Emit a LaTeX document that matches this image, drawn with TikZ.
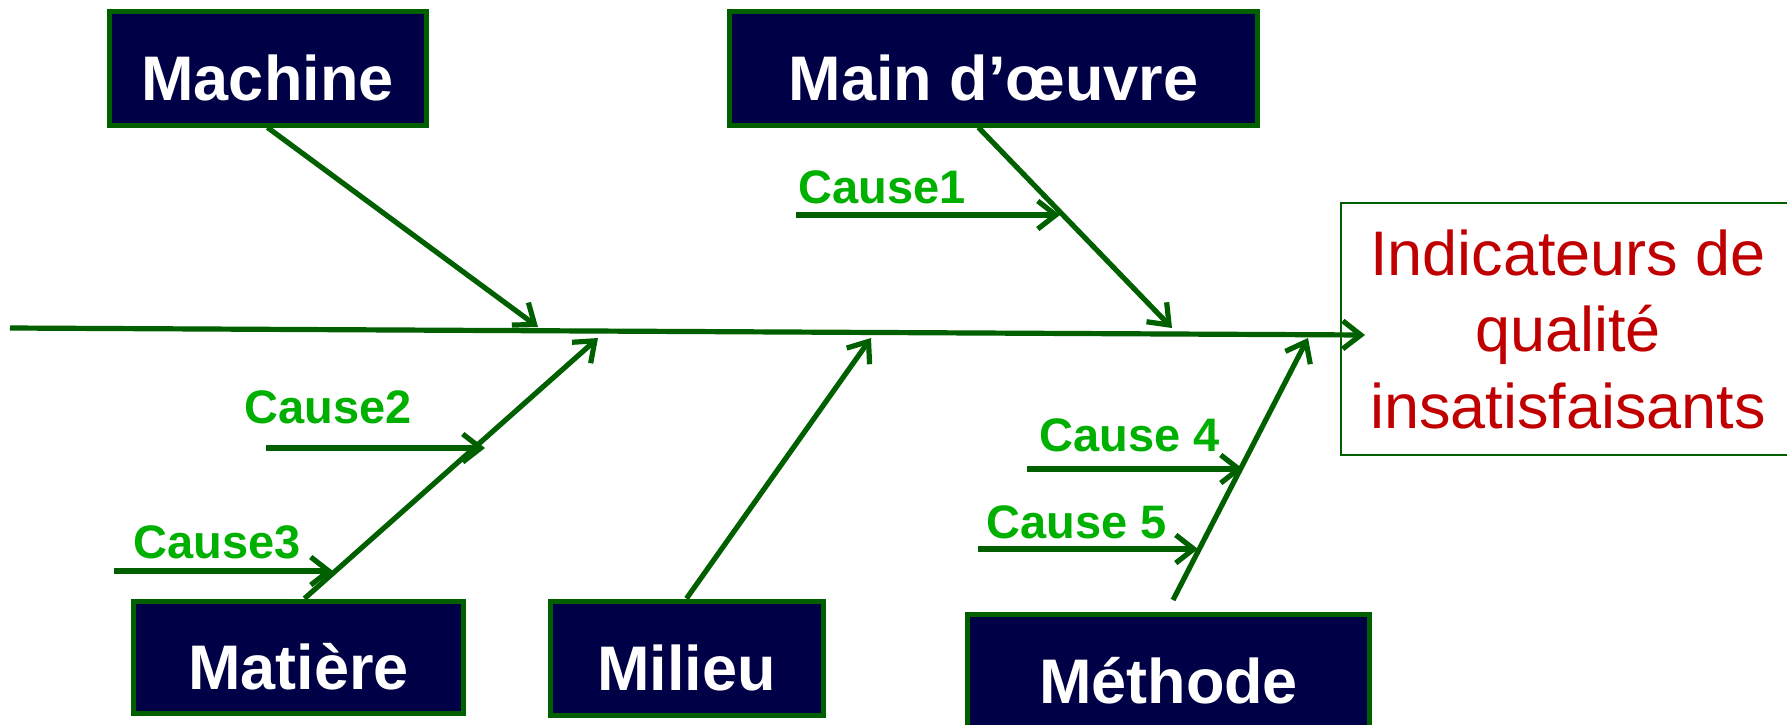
\documentclass[tikz,border=0pt]{standalone}
\usepackage{fontspec}
\setmainfont{Liberation Sans}
\usetikzlibrary{arrows.meta}

\definecolor{boxNavy}{RGB}{0,0,70}
\definecolor{boneGreen}{RGB}{0,96,0}
\definecolor{causeGreen}{RGB}{0,176,0}
\definecolor{effectRed}{RGB}{192,0,0}

\tikzset{every picture/.style={line width=0.75pt}}
\tikzset{
	catbox/.style={draw=boneGreen, line width=2.5pt, fill=boxNavy, text=white, inner sep=0pt,
		font=\fontsize{31.5}{36}\selectfont\bfseries, text height=32pt, text depth=0pt},
	bone/.style={draw=boneGreen, line width=2.6pt, -{Straight Barb[length=9pt,width=14pt]}},
	causelabel/.style={text=causeGreen, anchor=base, inner sep=0pt,
		font=\fontsize{23.5}{28}\selectfont\bfseries}}

\begin{document}
\begin{tikzpicture}[x=0.5pt,y=0.5pt,yscale=-1,xscale=1]
	\useasboundingbox (0,0) rectangle (1787,724);

	%Shape: Rectangle [id:machine]
	\node [catbox, minimum width=158.5pt, minimum height=57pt] (machine) at (267.5,68) {Machine};
	%Shape: Rectangle [id:maindoeuvre]
	\node [catbox, minimum width=264pt, minimum height=57pt] (main) at (993.5,68) {Main d’œuvre};
	%Shape: Rectangle [id:matiere]
	\node [catbox, minimum width=165pt, minimum height=56pt] (matiere) at (298.5,657) {Matière};
	%Shape: Rectangle [id:milieu]
	\node [catbox, minimum width=136.5pt, minimum height=57pt] (milieu) at (686.5,658) {Milieu};
	%Shape: Rectangle [id:methode]
	\node [catbox, minimum width=201pt, minimum height=57pt] (methode) at (1168.5,671) {Méthode};
	%Shape: Rectangle [id:effet]
	\node [draw=boneGreen, line width=0.75pt, text=effectRed, align=center, inner sep=0pt,
		minimum width=227pt, minimum height=126pt, font=\fontsize{31.5}{38.25}\selectfont]
		(effet) at (1568,329) {Indicateurs de\\qualité\\insatisfaisants};

	%Straight Lines [id:spine]
	\coordinate (queue) at (10,328);
	\coordinate (tete) at (1365,335);
	\draw [bone] (queue) -- (tete);

	%Straight Lines [id:bones]
	\coordinate (pMachine) at (538,327);
	\coordinate (pMain) at (1172,328);
	\coordinate (pMatiere) at (598,338);
	\coordinate (pMilieu) at (871,338);
	\coordinate (pMethode) at (1308,338);
	\coordinate (rMethode) at (1173,600);
	\draw [bone] (machine.south) -- (pMachine);
	\draw [bone] (main.south) ++(-15,0) -- (pMain);
	\draw [bone] (matiere.north) ++(6,0) -- (pMatiere);
	\draw [bone] (milieu.north) -- (pMilieu);
	\draw [bone] (rMethode) -- (pMethode);

	%Straight Lines [id:causes]
	\coordinate (c1a) at (796,215);  \coordinate (c1b) at (1060,215);
	\coordinate (c2a) at (266,448);  \coordinate (c2b) at (485,448);
	\coordinate (c3a) at (114,571);  \coordinate (c3b) at (333,571);
	\coordinate (c4a) at (1027,469); \coordinate (c4b) at (1243,469);
	\coordinate (c5a) at (978,549);  \coordinate (c5b) at (1198,549);
	\draw [bone] (c1a) -- (c1b);
	\draw [bone] (c2a) -- (c2b);
	\draw [bone] (c3a) -- (c3b);
	\draw [bone] (c4a) -- (c4b);
	\draw [bone] (c5a) -- (c5b);

	% Text Node
	\node [causelabel] (cause1) at (882,203) {Cause1};
	% Text Node
	\node [causelabel] (cause2) at (328,423) {Cause2};
	% Text Node
	\node [causelabel] (cause3) at (217,558) {Cause3};
	% Text Node
	\node [causelabel] (cause4) at (1130,451) {Cause 4};
	% Text Node
	\node [causelabel] (cause5) at (1077,538) {Cause 5};

\end{tikzpicture}
\end{document}
